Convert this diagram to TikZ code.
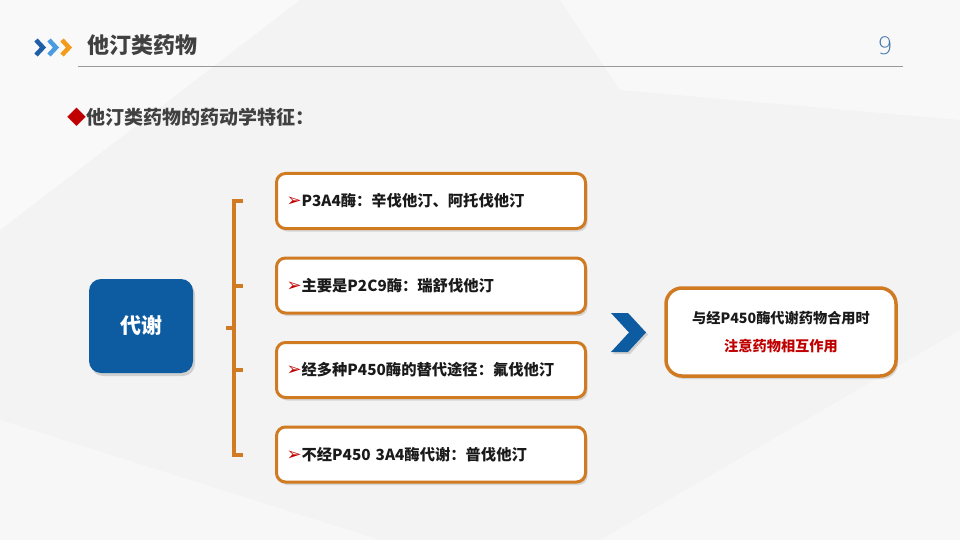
\documentclass[tikz,border=0pt]{standalone}
\usepackage{fontspec}
\setmainfont{Noto Sans CJK SC}
\newfontfamily\symfont{DejaVu Sans}
\newfontfamily\thinfont{DejaVu Sans ExtraLight}
\usepackage{xcolor}
\usetikzlibrary{positioning,shadows,calc}
\definecolor{stOrange}{HTML}{D07A22}
\definecolor{stBlue}{HTML}{0D5BA1}
\definecolor{stNavy}{HTML}{1F5FA8}
\definecolor{stSky}{HTML}{4A9BE0}
\definecolor{stAmber}{HTML}{F29B1C}
\definecolor{stRed}{HTML}{C00000}
\definecolor{stInk}{HTML}{1A1A1A}
\definecolor{stTitle}{HTML}{404040}
\definecolor{stNum}{HTML}{3F73AC}
\definecolor{stBack}{HTML}{F3F3F3}
\newcommand{\pt}{{\symfont\fontsize{18}{18}\selectfont\textcolor{stRed}{➢}}}

\begin{document}
\begin{tikzpicture}[x=1pt,y=-1pt,
 item/.style={rectangle,rounded corners=9pt,draw=stOrange,fill=white,line width=3pt,
   minimum width=309pt,minimum height=55pt,text width=289pt,inner xsep=10pt,align=left,
   text=stInk,font=\bfseries\fontsize{15.3}{18}\selectfont,
   drop shadow={shadow xshift=2pt,shadow yshift=-3pt,opacity=0.25}},
 topic/.style={rectangle,rounded corners=12pt,fill=stBlue,minimum width=104pt,
   minimum height=94pt,text=white,font=\bfseries\fontsize{21}{24}\selectfont,
   drop shadow={shadow xshift=2pt,shadow yshift=-3pt,opacity=0.3}},
 note/.style={item,rounded corners=16pt,line width=3.5pt,minimum width=230pt,
   minimum height=88pt,text width=200pt,align=center,
   font=\bfseries\fontsize{14.2}{28}\selectfont},
 brk/.style={draw=stOrange,line width=4pt},
 node distance=26.5pt]
% background
\useasboundingbox (0,0) rectangle (960,540);
\fill[stBack] (0,0) rectangle (960,540);
\fill[white,opacity=0.5] (0,0) -- (300,0) -- (0,230) -- cycle;
\fill[white,opacity=0.45] (560,0) -- (960,0) -- (960,120) -- (620,90) -- cycle;
\fill[white,opacity=0.4] (0,420) -- (380,540) -- (0,540) -- cycle;
\fill[white,opacity=0.35] (600,540) -- (960,330) -- (960,540) -- cycle;
% header
\foreach \x/\c in {36/stNavy,49/stSky,62/stAmber}
  \draw[\c,line width=4.5pt] (\x,40) -- (\x+7,47.5) -- (\x,55);
\node[anchor=west,text=stTitle,font=\bfseries\fontsize{22}{24}\selectfont] (title) at (84,45) {他汀类药物};
\node[text=stNum,font=\thinfont\fontsize{24}{26}\selectfont] (page) at (885,46) {9};
\draw[gray!80,line width=0.8pt] (78,66) -- (903,66);
\node[anchor=west,text=stTitle,font=\bfseries\fontsize{19}{22}\selectfont] (sub) at (64,117)
  {\textcolor{stRed}{◆}他汀类药物的药动学特征：};
% items
\node[item] (i1) at (431,201) {\pt P3A4酶：辛伐他汀、阿托伐他汀};
\node[item,below=of i1] (i2) {\pt 主要是P2C9酶：瑞舒伐他汀};
\node[item,below=of i2] (i3) {\pt 经多种P450酶的替代途径：氟伐他汀};
\node[item,below=of i3] (i4) {\pt 不经P450 3A4酶代谢：普伐他汀};
\node[topic] (meta) at (141,326) {代谢};
% bracket
\draw[brk] ([xshift=-32pt]i1.west) -- ++(-9,0) |- ([xshift=-32pt]i4.west);
\foreach \n in {i2,i3}
  \draw[brk] ([xshift=-41pt]\n.west) -- ++(9,0);
\coordinate (mid) at ($([xshift=-41pt]i1.west)!0.5!([xshift=-41pt]i4.west)$);
\draw[brk] (mid) -- ++(-8,0);
% arrow and result
\fill[stBlue,drop shadow={shadow xshift=2pt,shadow yshift=-2pt,opacity=0.3}]
  (611,313) -- (628,313) -- (646,332.5) -- (628,352) -- (611,352) -- (629,332.5) -- cycle;
\node[note] (res) at (781,332) {与经P450酶代谢药物合用时\\\textcolor{stRed}{注意药物相互作用}};
\end{tikzpicture}
\end{document}
